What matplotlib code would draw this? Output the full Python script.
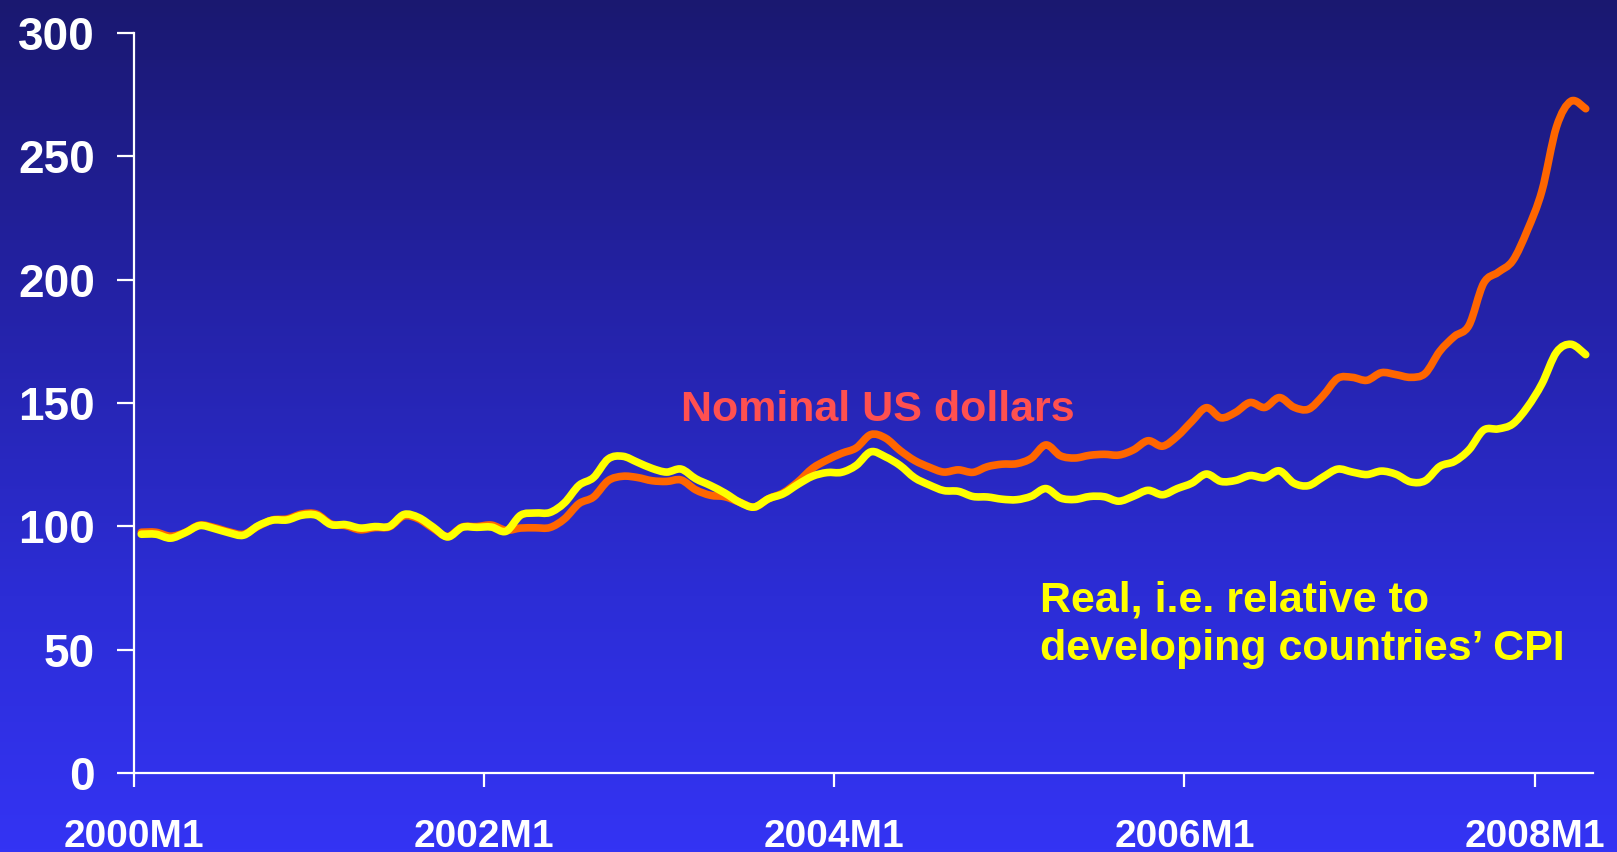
import numpy as np
import matplotlib

matplotlib.use("Agg")
import matplotlib.pyplot as plt
from matplotlib.colors import LinearSegmentedColormap
from matplotlib.patches import PathPatch
from matplotlib.path import Path

plt.rcParams["font.family"] = ["Liberation Sans", "DejaVu Sans"]
plt.rcParams["font.weight"] = "bold"

# monthly index, 2000M1 .. 2008M4
tick_months = [0, 24, 48, 72, 96]
tick_labels = ["2000M1", "2002M1", "2004M1", "2006M1", "2008M1"]
y_ticks = [0, 50, 100, 150, 200, 250, 300]

nominal = [
    97.6, 97.6, 96.0, 97.5, 100.5, 99.5, 97.8, 96.8, 100.0, 102.6,
    103.0, 105.0, 105.0, 101.0, 100.3, 98.6, 99.5, 99.8, 104.2, 103.0,
    99.2, 95.9, 99.7, 99.9, 100.5, 98.4, 99.3, 99.4, 99.5, 103.0,
    109.2, 111.9, 118.5, 120.3, 119.8, 118.5, 118.2, 118.8, 114.8, 112.6,
    112.0, 109.8, 107.8, 111.2, 113.6, 118.0, 123.5, 126.9, 129.6, 131.8,
    137.2, 135.8, 130.8, 126.7, 124.0, 122.0, 122.9, 121.9, 124.2, 125.2,
    125.4, 127.6, 133.0, 128.6, 127.7, 128.8, 129.2, 128.9, 131.0, 134.7,
    132.5, 136.5, 142.5, 148.1, 144.0, 146.2, 150.2, 148.2, 152.2, 148.3,
    147.5, 153.0, 160.0, 160.4, 159.2, 162.3, 161.5, 160.4, 162.0, 171.0,
    177.0, 181.5, 198.5, 203.0, 207.7, 220.0, 236.0, 262.0, 272.4, 269.3,
]

real = [
    96.8, 96.8, 95.2, 97.4, 100.3, 99.1, 97.4, 96.4, 100.2, 102.5,
    102.6, 104.5, 104.5, 100.7, 100.7, 99.3, 99.9, 100.0, 104.8, 103.6,
    99.7, 95.7, 99.6, 99.6, 99.7, 98.0, 104.5, 105.4, 105.6, 109.5,
    116.6, 119.8, 127.3, 128.4, 126.0, 123.5, 122.0, 123.2, 119.3, 116.6,
    113.5, 109.8, 107.8, 111.2, 113.2, 117.0, 120.3, 121.8, 121.9, 124.7,
    130.2, 128.2, 124.7, 119.7, 116.8, 114.5, 114.2, 112.1, 111.9, 111.0,
    110.8, 112.2, 115.3, 111.5, 110.9, 112.1, 112.0, 110.2, 112.2, 114.6,
    112.8, 115.3, 117.5, 121.2, 118.2, 118.6, 120.6, 119.7, 122.5, 117.5,
    116.5, 120.0, 123.2, 122.0, 121.0, 122.4, 121.1, 118.0, 118.5, 124.3,
    126.3, 131.0, 139.0, 139.5, 141.5, 148.3, 157.8, 170.6, 173.8, 169.6,
]


def smooth_path(xs, ys):
    # Catmull-Rom through the data points, drawn as cubic Bezier segments
    pts = np.column_stack([xs, ys]).astype(float)
    verts = [pts[0]]
    codes = [Path.MOVETO]
    n = len(pts)
    for i in range(n - 1):
        p0 = pts[i - 1] if i > 0 else pts[i]
        p1, p2 = pts[i], pts[i + 1]
        p3 = pts[i + 2] if i + 2 < n else pts[i + 1]
        verts += [p1 + (p2 - p0) / 6, p2 - (p3 - p1) / 6, p2]
        codes += [Path.CURVE4] * 3
    return Path(verts, codes)


W, H = 1617, 852
fig = plt.figure(figsize=(W / 100, H / 100), dpi=100)

# background gradient, dark navy at top to bright blue at bottom
bg = fig.add_axes([0, 0, 1, 1], zorder=0)
grad = LinearSegmentedColormap.from_list(
    "bg", [(0.0, "#1a1870"), (0.35, "#2422a6"), (0.7, "#2c2dd6"), (1.0, "#3434f4")]
)
bg.imshow(np.linspace(0, 1, 256).reshape(-1, 1), aspect="auto", cmap=grad,
          extent=[0, 1, 1, 0])
bg.set_axis_off()

ax = fig.add_axes([134 / W, 1 - 773 / H, 1459 / W, 740 / H], zorder=1)
ax.patch.set_alpha(0)

x = np.arange(len(nominal)) + 0.5
for series, color, z in ((nominal, "#ff6600", 3), (real, "#ffff00", 4)):
    ax.add_patch(PathPatch(smooth_path(x, series), fill=False, edgecolor=color,
                           lw=5.5, capstyle="round", joinstyle="round", zorder=z))

ax.set_xlim(0, 100)
ax.set_ylim(0, 300)
ax.set_xticks(tick_months)
ax.set_xticklabels(tick_labels)
ax.set_yticks(y_ticks)

for side in ("top", "right"):
    ax.spines[side].set_visible(False)
for side in ("left", "bottom"):
    ax.spines[side].set_color("white")
    ax.spines[side].set_linewidth(1.6)

ax.tick_params(axis="y", colors="white", length=12, width=1.6, pad=16,
               labelsize=33)
ax.tick_params(axis="x", colors="white", length=10, width=1.6, pad=23,
               labelsize=28)

ax.text(0.375, 0.490, "Nominal US dollars", transform=ax.transAxes,
        color="#ff5050", fontsize=31, fontweight="bold", va="center", ha="left")
ax.text(0.621, 0.200, "Real, i.e. relative to\ndeveloping countries\u2019 CPI",
        transform=ax.transAxes, color="#ffff00", fontsize=31, fontweight="bold",
        va="center", ha="left", linespacing=1.28)

fig.savefig("out.png", dpi=100)
